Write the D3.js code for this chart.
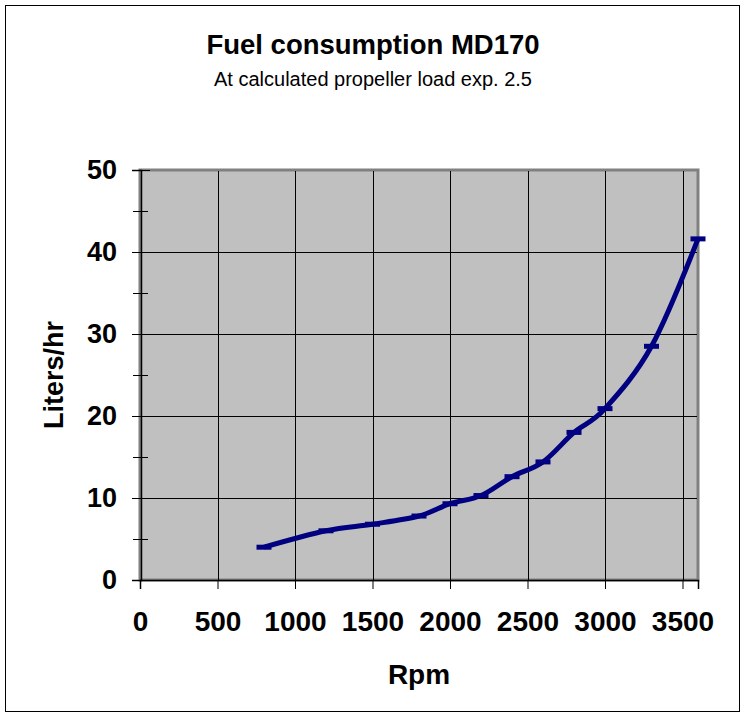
<!DOCTYPE html>
<html>
<head>
<meta charset="utf-8">
<script src="https://cdn.jsdelivr.net/npm/d3@7"></script>
<style>
  body { margin: 0; background: #fff; }
  text { font-family: Arial, "Liberation Sans", sans-serif; fill: #000; }
</style>
</head>
<body>
<div id="chart"></div>
<script>
// data
var rpm = [800, 1200, 1500, 1800, 2000, 2200, 2400, 2600, 2800, 3000, 3300, 3600];
var litersPerHour = [4.0, 6.0, 6.8, 7.8, 9.3, 10.3, 12.6, 14.4, 18.0, 20.9, 28.5, 41.6];
var xTicks = [0, 500, 1000, 1500, 2000, 2500, 3000, 3500];
var yTicks = [0, 10, 20, 30, 40, 50];
var yMinorTicks = [5, 15, 25, 35, 45];

var width = 745, height = 717;
var plot = {left: 140, top: 170, right: 698, bottom: 580};

var svg = d3.select("#chart").append("svg")
    .attr("width", width)
    .attr("height", height);

// outer chart border
svg.append("rect")
    .attr("x", 5.5).attr("y", 5.5)
    .attr("width", 734).attr("height", 706)
    .attr("fill", "#fff")
    .attr("stroke", "#000")
    .attr("stroke-width", 1);

var x = d3.scaleLinear().domain([0, 3600]).range([plot.left, plot.right]);
var y = d3.scaleLinear().domain([0, 50]).range([plot.bottom, plot.top]);

// plot area
svg.append("rect")
    .attr("x", plot.left).attr("y", plot.top)
    .attr("width", plot.right - plot.left)
    .attr("height", plot.bottom - plot.top)
    .attr("fill", "#c0c0c0")
    .attr("stroke", "#808080")
    .attr("stroke-width", 3);

// gridlines
svg.append("g").selectAll("line")
    .data(xTicks.filter(function(d) { return d > 0; }))
  .enter().append("line")
    .attr("x1", function(d) { return Math.round(x(d)) + 0.5; })
    .attr("x2", function(d) { return Math.round(x(d)) + 0.5; })
    .attr("y1", plot.top + 1).attr("y2", plot.bottom)
    .attr("stroke", "#000").attr("stroke-width", 1);

svg.append("g").selectAll("line")
    .data(yTicks.filter(function(d) { return d > 0 && d < 50; }))
  .enter().append("line")
    .attr("x1", plot.left).attr("x2", plot.right - 1)
    .attr("y1", function(d) { return Math.round(y(d)) + 0.5; })
    .attr("y2", function(d) { return Math.round(y(d)) + 0.5; })
    .attr("stroke", "#000").attr("stroke-width", 1);

// axes
var xAxis = d3.axisBottom(x).tickValues(xTicks).tickFormat(d3.format("d")).tickSize(9).tickPadding(22);
var gx = svg.append("g")
    .attr("transform", "translate(0," + plot.bottom + ")")
    .call(xAxis);
gx.select(".domain").attr("stroke", "#000").attr("stroke-width", 1.5);
gx.selectAll(".tick line").attr("stroke", "#000");
gx.selectAll("text")
    .style("font-family", "Arial, 'Liberation Sans', sans-serif")
    .style("font-weight", "bold").style("font-size", "28px").attr("fill", "#000");

var yAxis = d3.axisLeft(y).tickValues(yTicks).tickSize(9).tickPadding(14);
var gy = svg.append("g")
    .attr("transform", "translate(" + (plot.left + 1) + ",0)")
    .call(yAxis);
gy.select(".domain").attr("stroke", "#000").attr("stroke-width", 1.5);
gy.selectAll(".tick line").attr("stroke", "#000").attr("x2", 9).attr("x1", -9);
gy.selectAll("text")
    .style("font-family", "Arial, 'Liberation Sans', sans-serif")
    .style("font-weight", "bold").style("font-size", "27px").attr("fill", "#000")
    .attr("x", -24);

// minor y ticks
svg.append("g").selectAll("line")
    .data(yMinorTicks)
  .enter().append("line")
    .attr("x1", plot.left - 7).attr("x2", plot.left + 8)
    .attr("y1", function(d) { return Math.round(y(d)) + 0.5; })
    .attr("y2", function(d) { return Math.round(y(d)) + 0.5; })
    .attr("stroke", "#000").attr("stroke-width", 1);

// series
var points = rpm.map(function(r, i) { return [r, litersPerHour[i]]; });
var line = d3.line()
    .x(function(d) { return x(d[0]); })
    .y(function(d) { return y(d[1]); })
    .curve(d3.curveCatmullRom.alpha(0));

svg.append("path")
    .datum(points)
    .attr("d", line)
    .attr("fill", "none")
    .attr("stroke", "#000080")
    .attr("stroke-width", 5)
    .attr("stroke-linejoin", "round");

// dash markers
svg.append("g").selectAll("rect")
    .data(points)
  .enter().append("rect")
    .attr("x", function(d) { return x(d[0]) - 7.5; })
    .attr("y", function(d) { return y(d[1]) - 2.5; })
    .attr("width", 15).attr("height", 5)
    .attr("fill", "#000080");

// titles
svg.append("text")
    .attr("x", 373).attr("y", 54)
    .attr("text-anchor", "middle")
    .style("font-weight", "bold").style("font-size", "27.5px")
    .text("Fuel consumption MD170");

svg.append("text")
    .attr("x", 373).attr("y", 86)
    .attr("text-anchor", "middle")
    .style("font-size", "20px")
    .text("At calculated propeller load exp. 2.5");

svg.append("text")
    .attr("x", 419).attr("y", 684)
    .attr("text-anchor", "middle")
    .style("font-weight", "bold").style("font-size", "28px")
    .text("Rpm");

svg.append("text")
    .attr("transform", "translate(63," + ((plot.top + plot.bottom) / 2) + ") rotate(-90)")
    .attr("text-anchor", "middle")
    .style("font-weight", "bold").style("font-size", "27px")
    .text("Liters/hr");
</script>
</body>
</html>
